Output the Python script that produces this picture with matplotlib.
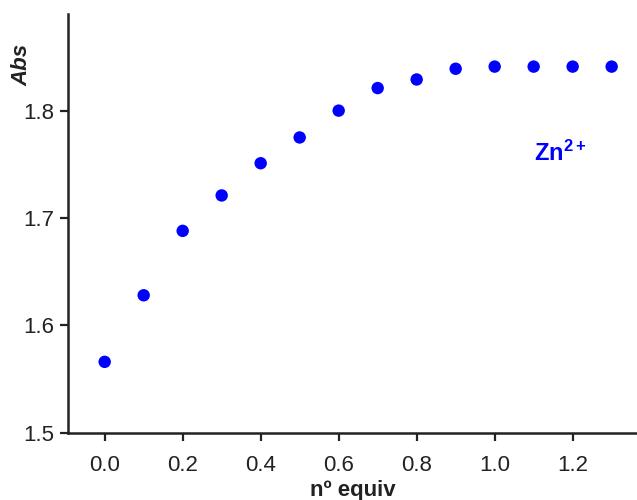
import matplotlib
matplotlib.use("Agg")
import matplotlib.pyplot as plt

equiv = [0.0, 0.1, 0.2, 0.3, 0.4, 0.5, 0.6, 0.7, 0.8, 0.9, 1.0, 1.1, 1.2, 1.3]
absorb = [1.566, 1.628, 1.688, 1.721, 1.751, 1.775, 1.800, 1.821, 1.829, 1.839,
          1.841, 1.841, 1.841, 1.841]
xticks = [0.0, 0.2, 0.4, 0.6, 0.8, 1.0, 1.2]
yticks = [1.5, 1.6, 1.7, 1.8]

plt.rcParams['font.family'] = ['Liberation Sans', 'DejaVu Sans']
plt.rcParams['mathtext.fontset'] = 'custom'
plt.rcParams['mathtext.rm'] = 'Liberation Sans'
plt.rcParams['mathtext.bf'] = 'Liberation Sans:bold'
plt.rcParams['mathtext.it'] = 'Liberation Sans:italic'

fig = plt.figure(figsize=(6.37, 5.0), dpi=100)
ax = fig.add_axes([0.1068, 0.1346, 0.8932, 0.8374])
ax.scatter(equiv, absorb, s=80, color='#0000ff', edgecolors='none', zorder=3)

ax.set_xlim(-0.094, 1.365)
ax.set_ylim(1.5, 1.890)
ax.set_xticks(xticks)
ax.set_xticklabels([f"{v:.1f}" for v in xticks])
ax.set_yticks(yticks)
ax.set_yticklabels([f"{v:.1f}" for v in yticks])

for s in ['top', 'right']:
    ax.spines[s].set_visible(False)
for s in ['left', 'bottom']:
    ax.spines[s].set_linewidth(1.8)
    ax.spines[s].set_color('#222222')
ax.tick_params(axis='both', direction='out', length=6, width=1.6, color='#222222',
               labelsize=16, labelcolor='#222222')
ax.tick_params(axis='x', pad=10)
ax.tick_params(axis='y', pad=4)

ax.set_xlabel('nº equiv', fontsize=16, fontweight='bold', color='#222222', labelpad=3)
fig.text(22 / 637, 1 - 65 / 500, 'Abs', rotation=90, fontsize=16, fontweight='bold',
         fontstyle='italic', color='#222222', ha='center', va='center')

ax.text(1.10, 1.760, r'Zn$^{\mathbf{2+}}$', color='#0000ff', fontsize=17, fontweight='bold',
        ha='left', va='center')

fig.savefig('out.png', dpi=100)
